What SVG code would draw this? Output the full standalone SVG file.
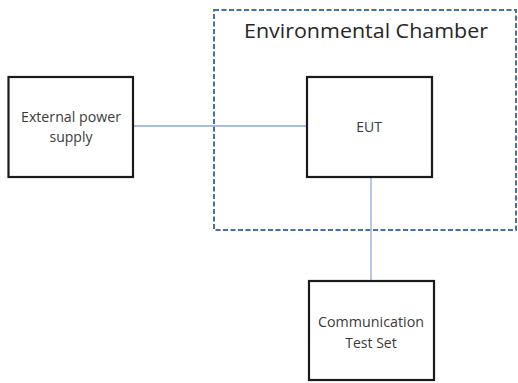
<svg xmlns="http://www.w3.org/2000/svg" width="518" height="383" viewBox="0 0 518 383">
<style>
.box{fill:#fff;stroke:#1a1a1a;stroke-width:2.2}
.lbl{font-family:"Open Sans","Liberation Sans",sans-serif;fill:#3a3a3a;text-anchor:middle;font-size:14px}
.conn{stroke:#8eaad6;stroke-width:1.3;fill:none}
.chamber{fill:none;stroke:#4a6fa8;stroke-width:2;stroke-dasharray:5,2.5}
</style>
<rect width="518" height="383" fill="#fff"/>
<g id="chamber">
<rect class="chamber" x="214" y="10" width="302" height="220"/>
<text class="lbl" x="366" y="38" style="font-size:20px;fill:#262626" textLength="244" lengthAdjust="spacingAndGlyphs">Environmental Chamber</text>
</g>
<g id="connectors">
<line class="conn" x1="133" y1="126" x2="307" y2="126"/>
<line class="conn" x1="371" y1="177" x2="371" y2="281"/>
</g>
<g id="psu">
<rect class="box" x="8.5" y="77" width="124.5" height="100"/>
<text class="lbl" x="71" y="122" textLength="100" lengthAdjust="spacingAndGlyphs">External power</text>
<text class="lbl" x="71" y="142">supply</text>
</g>
<g id="eut">
<rect class="box" x="307" y="77" width="125" height="100"/>
<text class="lbl" x="369" y="132">EUT</text>
</g>
<g id="comm">
<rect class="box" x="309" y="281" width="125" height="99"/>
<text class="lbl" x="371" y="327" textLength="106" lengthAdjust="spacingAndGlyphs">Communication</text>
<text class="lbl" x="371" y="348">Test Set</text>
</g>
</svg>
